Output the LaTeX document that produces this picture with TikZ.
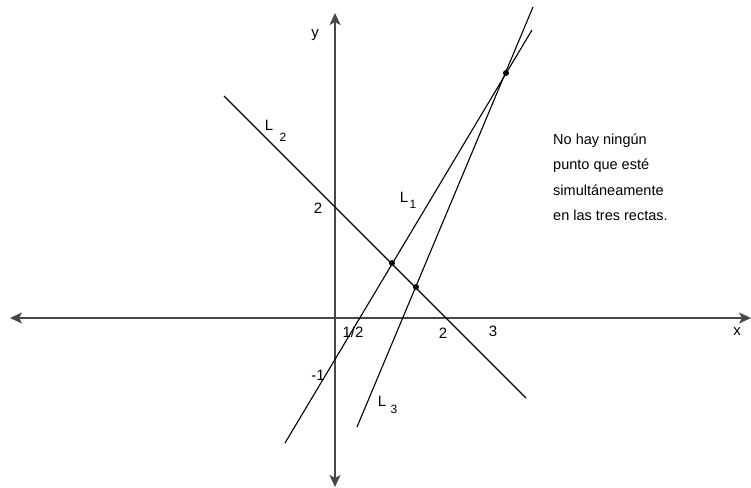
\documentclass[tikz,border=0pt]{standalone}
\usepackage{fontspec}
\setmainfont{Liberation Sans}
\usetikzlibrary{arrows.meta}
\begin{document}
\begin{tikzpicture}[x=1pt,y=-1pt,
  axis/.style={draw=black!72,line width=1.5pt,{Stealth[length=12pt,width=11pt,inset=3pt]}-{Stealth[length=12pt,width=11pt,inset=3pt]}},
  rline/.style={draw=black,line width=1.1pt},
  dot/.style={circle,fill=black,inner sep=0pt,minimum size=6pt},
  lbl/.style={inner sep=0pt,font=\fontsize{15}{18}\selectfont},
  sub/.style={inner sep=0pt,font=\fontsize{12}{14}\selectfont}]
\useasboundingbox (0,0) rectangle (751,487);
% axes
\coordinate (xl) at (10,318);
\coordinate (xr) at (751,318);
\coordinate (yt) at (335,13);
\coordinate (yb) at (335,487);
\draw[axis] (xl) -- (xr);
\draw[axis] (yt) -- (yb);
% points
\node[dot] (P1) at (392,263) {};
\node[dot] (P2) at (416,287) {};
\node[dot] (P3) at (506,73) {};
% line ends
\coordinate (L2a) at (224,96);
\coordinate (L2b) at (526,398);
\coordinate (L1a) at (285,443);
\coordinate (L1b) at (532,30);
\coordinate (L3a) at (357,427);
\coordinate (L3b) at (533,7);
\draw[rline] (L2a) -- (L2b);
\draw[rline] (L1a) -- (L1b);
\draw[rline] (L3a) -- (L3b);
% labels
\node[lbl] (ly) at (315,35) {y};
\node[lbl] (lx) at (737,332) {x};
\node[lbl] (t2y) at (318,208) {2};
\node[lbl] (tm1) at (318,375) {-1};
\node[lbl] (th) at (353,332) {1/2};
\node[lbl] (t2x) at (443,333) {2};
\node[lbl] (t3x) at (493,331) {3};
\node[lbl] (nL2) at (269,125) {L};
\node[sub] (sL2) at (283,137) {2};
\node[lbl] (nL1) at (404,197) {L};
\node[sub] (sL1) at (413,204) {1};
\node[lbl] (nL3) at (382,401) {L};
\node[sub] (sL3) at (394,409) {3};
\node[lbl,anchor=west,align=left,font=\fontsize{14.5}{25.5}\selectfont] (txt) at (553,177)
  {No hay ningún\\punto que esté\\simultáneamente\\en las tres rectas.};
\end{tikzpicture}
\end{document}
